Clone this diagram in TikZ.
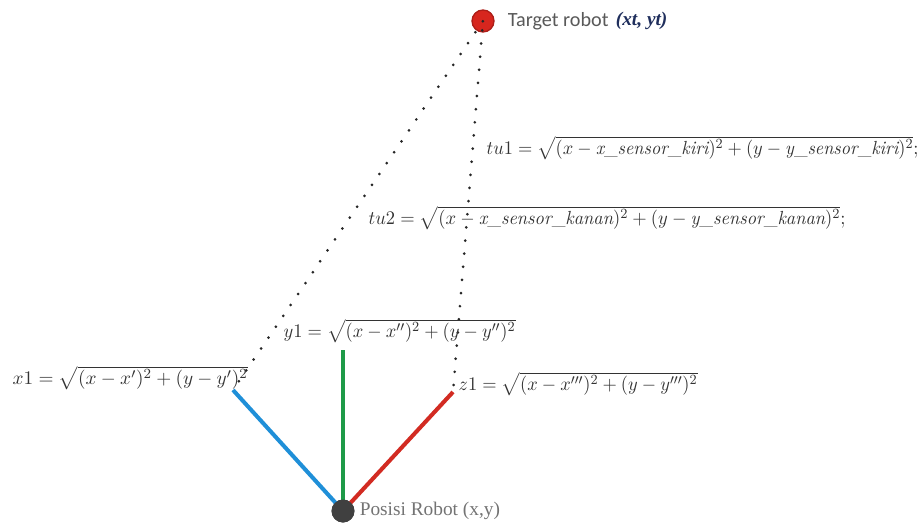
\documentclass[tikz,border=0pt]{standalone}
\usepackage{amsmath}
\usepackage{graphicx}
\usepackage{fontspec}
\newfontfamily\calibri{Carlito}
\newfontfamily\cambria{Liberation Serif}
\usetikzlibrary{positioning}
\tikzset{every picture/.style={line width=0.75pt}}
\definecolor{targetred}{HTML}{D7261E}
\definecolor{robotgray}{HTML}{404040}
\definecolor{armblue}{HTML}{1F8FD8}
\definecolor{armgreen}{HTML}{1E9A48}
\definecolor{armred}{HTML}{D22B22}
\definecolor{labelgray}{HTML}{595959}
\definecolor{coordblue}{HTML}{1F2E5C}
\newcommand{\sname}[1]{\mathit{#1}}
\newcommand{\fitto}[2]{\resizebox{#1}{\height}{#2}}
\tikzset{
  formula/.style={anchor=west, inner sep=0pt, text=black!80, font=\fontsize{10.8}{13}\selectfont},
  arm/.style={line width=2.3pt},
  sightline/.style={line width=1.7pt, line cap=round, dash pattern=on 0pt off 7.5pt, black!85}
}

\begin{document}
\begin{tikzpicture}[x=0.02cm, y=-0.02cm, every node/.style={font=\small}]
        \useasboundingbox (0,0) rectangle (921,528);
        % robot and target
        \node[circle, fill=targetred, draw=targetred!80!black, inner sep=0pt, minimum size=0.44cm] (target) at (483,21) {};
        \node[circle, fill=robotgray, inner sep=0pt, minimum size=0.46cm] (robot) at (343,511) {};
        \coordinate (kiri)   at (233,390);
        \coordinate (tengah) at (343,350);
        \coordinate (kanan)  at (453,392);
        % sensor arms
        \draw[arm, armblue]  (robot.center) -- (kiri);
        \draw[arm, armgreen] (robot.center) -- (tengah);
        \draw[arm, armred]   (robot.center) -- (kanan);
        \node[circle, fill=robotgray, inner sep=0pt, minimum size=0.46cm] at (robot) {};
        % lines of sight
        \draw[sightline, shorten <=6pt] (kiri) -- (target.center);
        \draw[sightline, shorten <=4pt] (kanan) -- (target.center);
        % labels
        \node[right=0.25cm of target, inner sep=0pt, font=\calibri\fontsize{11.5}{13}\selectfont, text=labelgray] (tname) {Target robot};
        \node[right=0.12cm of tname, inner sep=0pt, font=\cambria\bfseries\itshape\fontsize{11}{13}\selectfont, text=coordblue] {(xt, yt)};
        \node[right=0.08cm of robot, inner sep=0pt, font=\cambria\fontsize{11}{13}\selectfont, text=black!55] {Posisi Robot (x,y)};
        \node[formula] (tu1) at (486,148) {\fitto{8.64cm}{$tu1 = \sqrt{(x - \sname{x\_sensor\_kiri})^2 + (y - \sname{y\_sensor\_kiri})^2};$}};
        \node[formula] (tu2) at (368,218) {\fitto{9.54cm}{$tu2 = \sqrt{(x - \sname{x\_sensor\_kanan})^2 + (y - \sname{y\_sensor\_kanan})^2};$}};
        \node[formula] (y1) at (283,331) {\fitto{4.64cm}{$y1 = \sqrt{(x - x'')^2 + (y - y'')^2}$}};
        \node[formula] (x1) at (12,378) {\fitto{4.7cm}{$x1 = \sqrt{(x - x')^2 + (y - y')^2}$}};
        \node[formula] (z1) at (458,384) {\fitto{4.78cm}{$z1 = \sqrt{(x - x''')^2 + (y - y''')^2}$}};
    \end{tikzpicture}
\end{document}
